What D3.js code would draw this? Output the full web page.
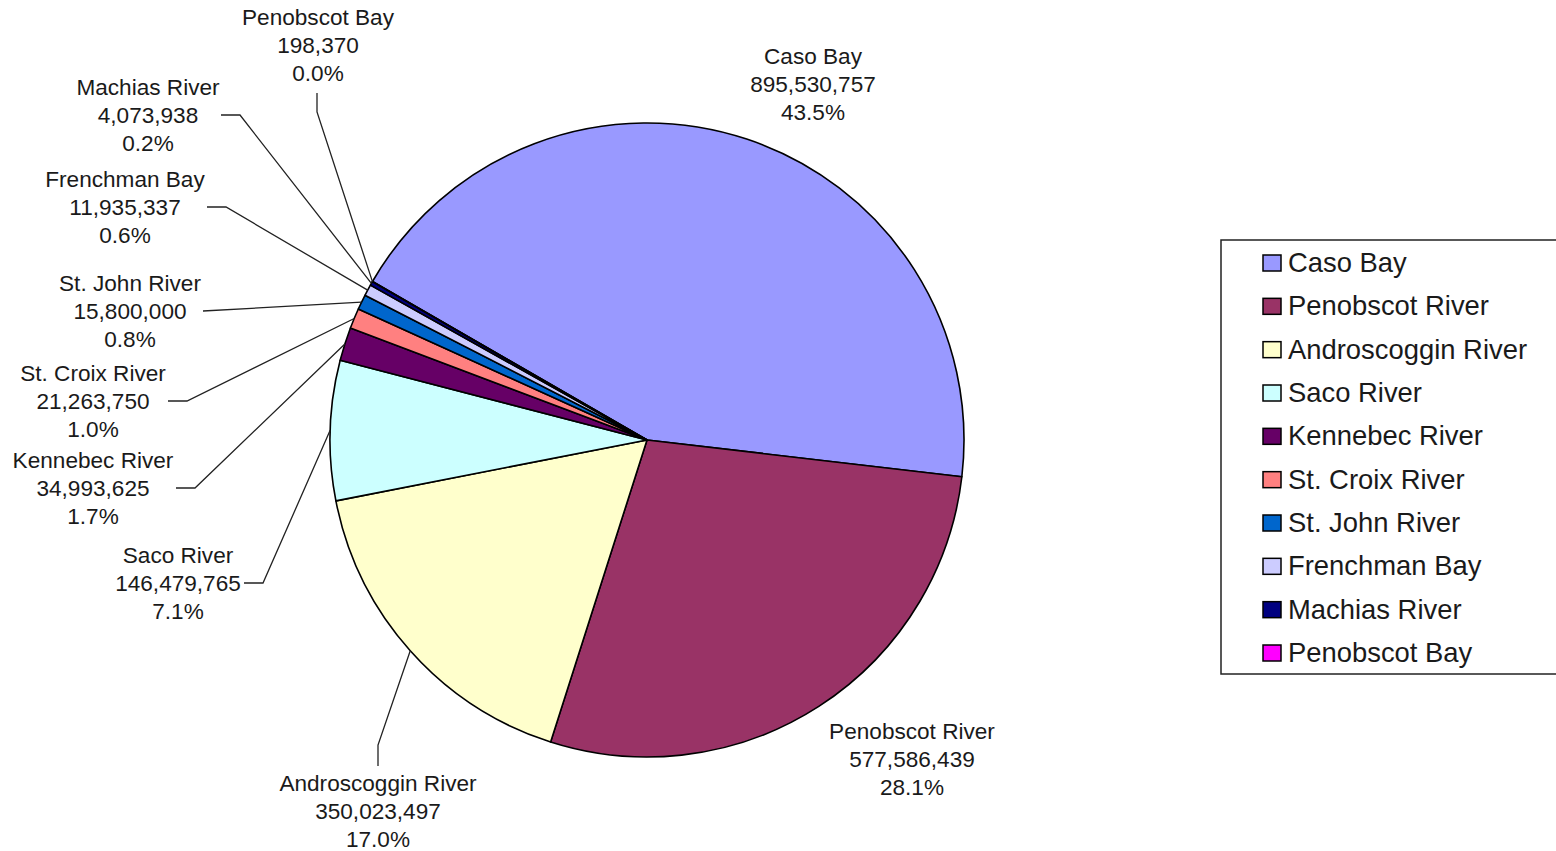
<!DOCTYPE html>
<html>
<head>
    <title>Pie chart</title>
    <script src="https://d3js.org/d3.v7.min.js"></script>
    <style>
        body { margin: 0; background: #fff; }
        text { font-family: "Liberation Sans", Arial, sans-serif; fill: #1a1a1a; }
    </style>
</head>
<body>
    <svg id="chart" width="1556" height="851"></svg>

    <script>
        // data
        const names = ['Caso Bay', 'Penobscot River', 'Androscoggin River', 'Saco River', 'Kennebec River',
            'St. Croix River', 'St. John River', 'Frenchman Bay', 'Machias River', 'Penobscot Bay'];
        const amounts = [895530757, 577586439, 350023497, 146479765, 34993625,
            21263750, 15800000, 11935337, 4073938, 198370];
        const colors = ['#9999ff', '#993366', '#ffffcc', '#ccffff', '#660066',
            '#ff8080', '#0066cc', '#ccccff', '#000080', '#ff00ff'];

        // label placement (center x, middle line y, leader type, leader start x)
        const labelLayout = [
            { x: 813, y: 84, leader: null },
            { x: 912, y: 759, leader: null },
            { x: 378, y: 811, leader: 'up' },
            { x: 178, y: 583, leader: 'side', lx: 244 },
            { x: 93, y: 488, leader: 'side', lx: 176 },
            { x: 93, y: 401, leader: 'side', lx: 168 },
            { x: 130, y: 311, leader: 'direct', lx: 203 },
            { x: 125, y: 207, leader: 'side', lx: 207 },
            { x: 148, y: 115, leader: 'side', lx: 221 },
            { x: 318, y: 45, leader: 'down' }
        ];

        const svg = d3.select('#chart');
        const cx = 647, cy = 440, r = 317;
        const total = d3.sum(amounts);
        const fmtNum = d3.format(',');
        const fmtPct = d3.format('.1%');

        const data = names.map(function (n, i) {
            return { name: n, value: amounts[i], color: colors[i], layout: labelLayout[i] };
        });

        const pie = d3.pie()
            .sort(null)
            .value(function (d) { return d.value; })
            .startAngle(-Math.PI / 3)
            .endAngle(-Math.PI / 3 + 2 * Math.PI);

        const arc = d3.arc().innerRadius(0).outerRadius(r);
        const edge = d3.arc().innerRadius(r).outerRadius(r);

        const g = svg.append('g').attr('transform', 'translate(' + cx + ',' + cy + ')');

        g.selectAll('path.slice')
            .data(pie(data))
            .enter()
            .append('path')
            .attr('class', 'slice')
            .attr('d', arc)
            .attr('fill', function (d) { return d.data.color; })
            .attr('stroke', '#000')
            .attr('stroke-width', 1.6)
            .attr('stroke-linejoin', 'round');

        // labels
        const lineH = 28;
        const labels = svg.append('g');
        pie(data).forEach(function (d) {
            const lay = d.data.layout;
            const t = labels.append('text')
                .attr('text-anchor', 'middle')
                .style('font-size', '22.6px');
            const lines = [d.data.name, fmtNum(d.data.value), fmtPct(d.data.value / total)];
            lines.forEach(function (s, k) {
                t.append('tspan')
                    .attr('x', lay.x)
                    .attr('y', lay.y + (k - 1) * lineH + 8)
                    .text(s);
            });

            if (!lay.leader) return;
            const p = edge.centroid(d);
            const end = [cx + p[0], cy + p[1]];
            let pts;
            if (lay.leader === 'side') {
                pts = [[lay.lx, lay.y], [lay.lx + 19, lay.y], end];
            } else if (lay.leader === 'direct') {
                pts = [[lay.lx, lay.y], end];
            } else if (lay.leader === 'down') {
                pts = [[lay.x - 1, lay.y + 48], [lay.x - 1, lay.y + 67], end];
            } else {
                pts = [[lay.x, lay.y - 45], [lay.x, lay.y - 66], end];
            }
            labels.append('path')
                .attr('d', d3.line()(pts))
                .attr('fill', 'none')
                .attr('stroke', '#222')
                .attr('stroke-width', 1.3);
        });

        // legend
        const legend = svg.append('g');
        legend.append('rect')
            .attr('x', 1221).attr('y', 240)
            .attr('width', 345).attr('height', 434)
            .attr('fill', '#fff')
            .attr('stroke', '#222')
            .attr('stroke-width', 1.5);

        const legendY = d3.scalePoint().domain(names).range([263, 653]);
        const items = legend.selectAll('g.item')
            .data(data)
            .enter()
            .append('g')
            .attr('class', 'item')
            .attr('transform', function (d) { return 'translate(0,' + legendY(d.name) + ')'; });

        items.append('rect')
            .attr('x', 1263).attr('y', -8)
            .attr('width', 18).attr('height', 16)
            .attr('fill', function (d) { return d.color; })
            .attr('stroke', '#000')
            .attr('stroke-width', 1.5);

        items.append('text')
            .attr('x', 1288)
            .attr('y', 9)
            .style('font-size', '27.4px')
            .text(function (d) { return d.name; });
    </script>
</body>
</html>
